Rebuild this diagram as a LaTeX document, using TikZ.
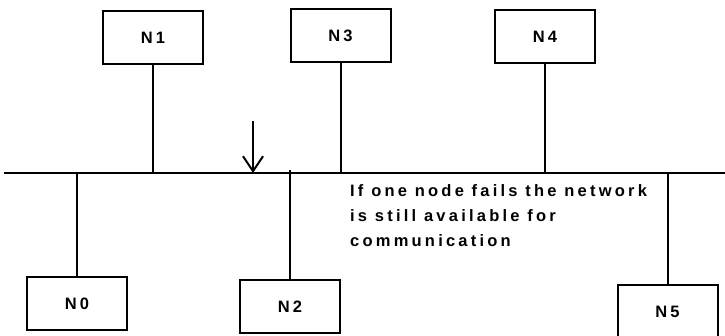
\documentclass[tikz,border=0pt]{standalone}
\usepackage{fontspec}
\newfontfamily\lblfont[LetterSpace=19.5]{Liberation Sans}
\usetikzlibrary{positioning,arrows.meta}

\tikzset{
  station/.style={draw, line width=2, minimum width=100pt, minimum height=53pt,
    inner sep=0pt, font=\lblfont\bfseries\fontsize{16.5}{20}\selectfont},
  tap/.style={line width=2},
  note/.style={align=left, inner sep=0pt, font=\lblfont\bfseries\fontsize{16.5}{25}\selectfont}
}

\begin{document}
\begin{tikzpicture}[x=1pt,y=1pt]
\useasboundingbox (0,0) rectangle (725,-336);
% the shared bus
\coordinate (busL) at (4,-173);
\coordinate (busR) at (727,-173);
\draw[line width=2.5] (busL) -- (busR);
% stations above the bus
\node[station] (n1) at (153,-38) {N1};
\node[station] (n3) at (340.5,-36) {N3};
\node[station] (n4) at (545,-36.5) {N4};
% stations below the bus
\node[station] (n0) at (77,-304) {N0};
\node[station] (n2) at (290,-306.5) {N2};
\node[station] (n5) at (667.5,-311.5) {N5};
% drop cables
\draw[tap] (n1.south) -- (n1.south |- busL);
\draw[tap] (n3.south) -- (n3.south |- busL);
\draw[tap] (n4.south) -- (n4.south |- busL);
\draw[tap] (n0.north) -- (n0.north |- busL);
\draw[tap] (n2.north) -- ([yshift=3pt]n2.north |- busL);
\draw[tap] (n5.north) -- (n5.north |- busL);
% point of failure
\coordinate (fault) at (253,-121);
\draw[tap, -{Straight Barb[length=15pt, width=20pt, line width=2pt]}] (fault) -- (fault |- busL);
\node[note, anchor=north west] (msg) at (350,-184) {If one node fails the network\\is still available for\\communication};
\end{tikzpicture}
\end{document}
